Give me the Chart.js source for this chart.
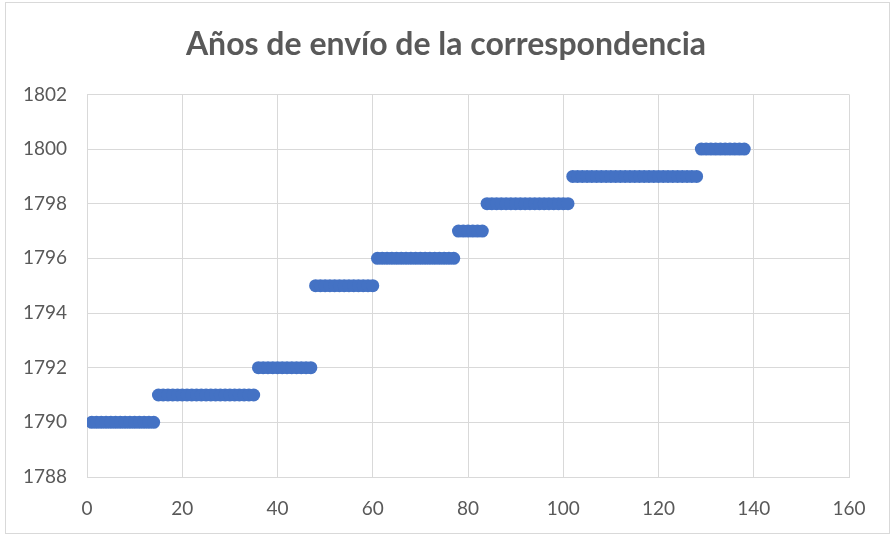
<!DOCTYPE html>
<html>
<head>
<meta charset="utf-8">
<script src="https://cdn.jsdelivr.net/npm/chart.js@4"></script>
<style>
  html, body { margin: 0; padding: 0; background: #fff; }
  #wrap { position: relative; width: 892px; height: 536px; }
  #frame { position: absolute; left: 5px; top: 2px; width: 883px; height: 530px; border: 1px solid #d9d9d9; pointer-events: none; }
</style>
</head>
<body>
<div id="wrap">
  <canvas id="chart" width="892" height="536"></canvas>
  <div id="frame"></div>
</div>
<script>
// year of each letter, in order (row number = x)
const years = [
  1790,1790,1790,1790,1790,1790,1790,1790,1790,1790,1790,1790,1790,1790,
  1791,1791,1791,1791,1791,1791,1791,1791,1791,1791,1791,1791,1791,1791,1791,1791,1791,1791,1791,1791,1791,
  1792,1792,1792,1792,1792,1792,1792,1792,1792,1792,1792,1792,
  1795,1795,1795,1795,1795,1795,1795,1795,1795,1795,1795,1795,1795,
  1796,1796,1796,1796,1796,1796,1796,1796,1796,1796,1796,1796,1796,1796,1796,1796,1796,
  1797,1797,1797,1797,1797,1797,
  1798,1798,1798,1798,1798,1798,1798,1798,1798,1798,1798,1798,1798,1798,1798,1798,1798,1798,
  1799,1799,1799,1799,1799,1799,1799,1799,1799,1799,1799,1799,1799,1799,1799,1799,1799,1799,1799,1799,1799,1799,1799,1799,1799,1799,1799,
  1800,1800,1800,1800,1800,1800,1800,1800,1800,1800
];
const xTicks = [0, 20, 40, 60, 80, 100, 120, 140, 160];
const yTicks = [1788, 1790, 1792, 1794, 1796, 1798, 1800, 1802];

const points = years.map((y, i) => ({ x: i + 1, y: y }));

const textColor = '#595959';
const gridColor = '#d9d9d9';

new Chart(document.getElementById('chart'), {
  type: 'scatter',
  data: {
    datasets: [{
      label: 'Año',
      data: points,
      backgroundColor: '#4472c4',
      borderColor: '#4472c4',
      borderWidth: 0,
      pointRadius: 6.5,
      pointHoverRadius: 6.5
    }]
  },
  options: {
    responsive: false,
    animation: false,
    layout: { padding: 0 },
    plugins: {
      legend: { display: false },
      tooltip: { enabled: false },
      title: {
        display: true,
        text: 'Años de envío de la correspondencia',
        color: textColor,
        font: { family: 'Lato', size: 32, weight: 'bold' },
        padding: { top: 25, bottom: 31 }
      }
    },
    scales: {
      x: {
        type: 'linear',
        min: xTicks[0],
        max: xTicks[xTicks.length - 1],
        afterBuildTicks: s => { s.ticks = xTicks.map(v => ({ value: v })); },
        afterFit: s => { s.height = 59; },
        grid: { color: gridColor, lineWidth: 1, drawTicks: false },
        border: { color: gridColor, width: 1 },
        ticks: { color: textColor, padding: 20, maxRotation: 0, font: { family: 'Lato', size: 19 } }
      },
      y: {
        type: 'linear',
        min: yTicks[0],
        max: yTicks[yTicks.length - 1],
        afterBuildTicks: s => { s.ticks = yTicks.map(v => ({ value: v })); },
        afterFit: s => { s.width = 87; },
        grid: { color: gridColor, lineWidth: 1, drawTicks: false },
        border: { color: gridColor, width: 1 },
        ticks: { color: textColor, padding: 20, font: { family: 'Lato', size: 19 }, callback: v => String(v) }
      },
      // empty right-hand margin
      yRight: {
        type: 'linear',
        position: 'right',
        min: yTicks[0],
        max: yTicks[yTicks.length - 1],
        afterFit: s => { s.width = 43; },
        grid: { display: false },
        border: { display: false },
        ticks: { display: false }
      }
    }
  }
});
</script>
</body>
</html>
